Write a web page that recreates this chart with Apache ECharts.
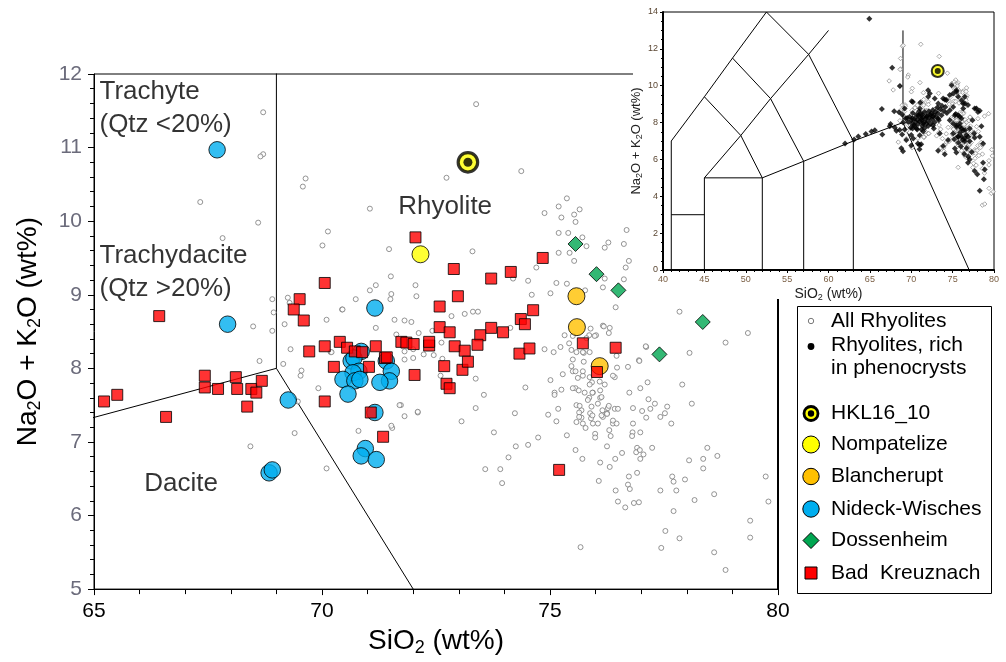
<!DOCTYPE html>
<html><head><meta charset="utf-8">
<script src="https://cdn.jsdelivr.net/npm/echarts@6/dist/echarts.min.js"></script>
<style>html,body{margin:0;padding:0;background:#fff}#c{width:1006px;height:662px}</style>
</head><body><div id="c"></div>
<script>
// ---------- DATA ----------
const xTicksMain = [65, 70, 75, 80];
const yTicksMain = [5, 6, 7, 8, 9, 10, 11, 12];
const xTicksInset = [40, 45, 50, 55, 60, 65, 70, 75, 80];
const yTicksInset = [0, 2, 4, 6, 8, 10, 12, 14];

// TAS classification boundaries (SiO2, Na2O+K2O)
const tasLines = [
  [[41,0],[41,7],[45,9.4],[48.4,11.5],[52.5,14]],
  [[41,3],[45,3]],
  [[45,0],[45,5],[52,5],[52,0]],
  [[52,5],[57,5.9],[63,7],[69,8]],
  [[57,0],[57,5.9]],
  [[63,0],[63,7]],
  [[45,5],[49.4,7.3],[53,9.3],[57.6,11.7],[60,13]],
  [[45,9.4],[49.4,7.3],[52,5]],
  [[48.4,11.5],[53,9.3],[57,5.9]],
  [[52.5,14],[57.6,11.7],[63,7]],
  [[69,8],[69,13]],
  [[69,8],[77,0]]
];

const allRhyolites = [
[68.71,11.48],[68.71,10.91],[68.65,10.88],[67.33,10.26],[69.64,10.58],[69.58,10.47],[68.60,9.98],[67.82,9.77],[71.05,10.17],[70.13,9.86],
[70.01,9.67],[71.47,9.62],[71.51,9.25],[71.18,9.13],[71.05,9.06],[71.52,9.01],[70.74,8.94],[70.44,8.80],[68.91,8.94],[69.25,8.96],
[69.29,8.89],[68.94,8.76],[69.18,8.60],[68.91,8.51],[68.49,8.57],[68.63,8.10],[69.31,8.26],[70.10,8.66],[70.19,8.22],[71.18,8.55],
[71.59,8.66],[71.63,8.46],[71.81,8.12],[72.00,8.14],
[69.15,8.06],[69.55,7.97],[69.53,7.90],[69.92,7.73],[69.47,7.55],[69.40,7.12],[68.43,6.94],[70.10,6.64],[70.80,7.15],[71.54,7.19],
[71.73,7.50],[71.81,7.35],[72.10,7.40],
[73.38,11.59],[72.73,10.59],[74.37,10.68],
[75.37,10.31],[75.19,10.20],[75.65,10.16],[75.53,10.09],[75.25,10.05],[74.88,10.11],[75.56,9.99],[75.19,9.84],[75.40,9.84],[75.71,9.78],
[76.68,9.88],[76.28,9.71],[76.20,9.64],[76.62,9.69],[75.80,9.66],[75.19,9.57],[75.43,9.57],[75.53,9.46],[76.73,9.46],[76.66,9.37],
[73.30,9.59],[74.70,9.37],[74.52,9.19],[74.60,9.00],[75.01,9.02],[75.14,9.16],[75.37,9.15],[75.77,9.06],[76.20,9.22],[76.16,9.10],
[76.62,9.21],[76.44,8.83],[72.05,9.13],[72.07,8.98],[71.50,8.94],[74.19,9.22],[72.84,8.71],[73.13,8.74],[73.31,8.77],[73.42,8.77],
[71.81,8.65],[71.96,8.63],[72.12,8.48],[72.42,8.51],[74.13,8.55],[72.62,8.35],[71.81,8.23],[72.00,8.26],[72.23,8.19],[72.45,8.18],
[74.88,8.26],[75.08,8.22],[75.86,8.45],[76.01,8.45],[76.16,8.58],[76.31,8.55],[75.32,8.45],[75.80,8.41],[75.74,8.21],[77.11,8.29],
[76.95,8.11],[78.06,8.21],[78.85,8.35],[79.34,8.48],[77.84,8.77],
[70.45,8.80],[72.64,8.13],[72.60,7.90],[71.70,7.50],[72.10,7.41],[71.52,7.22],[70.21,8.22],
[73.37,7.86],[73.55,7.64],[73.37,7.46],[73.06,7.28],[73.77,7.13],[73.58,6.63],[73.91,6.63],[73.95,6.44],[74.09,6.79],[74.25,6.94],
[74.52,6.96],[74.74,7.06],[74.23,7.39],[74.46,7.74],[75.01,7.84],[75.10,7.67],[75.25,7.71],[75.28,7.92],[74.96,7.37],[75.14,7.28],
[75.18,7.45],[75.37,7.09],[75.56,6.89],[75.71,6.77],[75.67,5.57],[75.47,8.03],[75.50,7.96],[75.56,7.73],[75.58,7.50],[75.69,7.43],
[75.63,7.70],[75.72,7.90],[75.74,8.09],[75.58,7.27],[75.69,7.33],[75.78,7.19],[75.86,7.60],[75.83,7.57],[75.92,7.81],[75.94,7.67],
[75.94,7.25],[75.90,7.32],[75.88,7.39],[76.05,7.25],[75.99,7.11],[75.99,7.06],[76.10,6.72],[76.07,6.47],[76.10,7.60],[76.10,7.70],
[76.15,7.43],[76.16,7.34],[76.20,7.78],[76.09,7.82],[76.27,7.46],[76.25,7.39],[76.30,7.16],[76.33,7.08],[76.38,7.25],[76.46,7.25],
[76.42,7.45],[76.49,7.45],[76.25,6.94],[76.31,6.66],[76.43,6.77],[76.44,6.34],[76.49,6.19],[76.65,6.11],[76.58,6.85],[76.73,6.53],
[76.71,6.42],[76.75,6.36],[76.82,7.25],[76.81,7.13],[76.80,7.08],[76.82,7.46],[76.74,7.67],[76.47,8.01],[76.42,7.88],[76.71,8.02],
[76.96,8.10],[76.98,7.73],[77.14,7.81],[76.91,6.92],[76.89,6.86],[76.97,6.89],[76.98,6.77],[76.98,7.13],[77.05,6.83],[76.91,6.58],
[76.84,6.17],[76.95,6.18],[77.02,7.42],[77.11,7.33],[77.16,7.58],[77.20,7.45],[77.24,6.92],[77.30,7.52],[77.42,7.34],[77.52,7.39],
[77.57,7.48],[77.66,7.25],[77.10,8.30],[77.42,6.34],[77.53,5.79],[77.44,5.56],[77.68,6.53],[77.71,6.46],[77.77,6.34],[77.71,6.06],
[77.84,5.69],[77.90,7.78],[78.11,7.52],[78.05,6.75],[77.96,6.49],[78.17,6.21],[78.36,6.77],[78.36,6.64],[78.45,6.92],[78.67,6.81],
[78.60,6.29],[78.60,5.50],[78.85,5.26],[79.39,5.93],[79.39,5.70],[79.73,6.53],[79.79,6.19],
[76.18,8.57],[76.29,8.48],[75.89,8.54],[75.50,8.44],[75.98,8.44],[75.23,8.29],[75.42,8.34],[75.47,8.25],[75.58,8.22],[75.72,8.22],
[75.87,8.22],[75.50,8.12],[76.46,8.17],[75.56,7.96],[75.72,7.96],[75.61,7.87],[75.87,7.88],[76.38,7.90],[75.50,7.73],[75.87,7.78],
[75.10,7.64],[75.76,7.67],[75.93,7.67],[76.13,7.61],[75.65,7.49],[75.91,7.48],[76.05,7.52],[76.29,7.49],[75.64,7.40],[75.64,7.34],
[75.93,7.36],[76.13,7.36],[76.25,7.38],[76.38,7.29],[75.72,7.25]
];
// All-rhyolite analyses that plot outside the main frame (inset only)
const allRhyolitesOutside = [[68.94,12.14],[69.03,12.19],[71.15,12.25],[79.40,4.43],[79.68,4.16],[79.90,4.25],[78.60,3.52],[78.88,3.58]];

const richRhyolites = [
[64.93,13.64],[67.70,10.98],[68.63,9.99],[66.45,8.73],[67.94,8.62],[68.54,8.56],
[62.0,6.87],[63.1,7.08],[63.6,7.25],[64.5,7.38],[65.2,7.52],[65.6,7.58],[66.5,7.35],
[67.4,7.80],[67.5,7.92],[68.0,7.73],[68.2,7.55],[68.6,7.60],[69.2,7.62],[68.9,7.35],[69.4,7.05],[70.0,7.33],[70.0,6.75],[68.8,6.60],
[69.0,6.45],[70.8,6.87],[71.0,6.78],[71.2,6.82],[71.0,6.55],
[69.2,8.76],[69.5,8.25],[70.1,7.95],[70.2,9.12],[70.05,9.16],[71.1,9.09],[71.05,8.76],[71.45,7.95],[70.85,8.40],[71.25,8.22],[71.85,8.31],
[72.04,9.76],[72.24,9.58],[72.05,9.40],[72.84,9.31],[73.26,9.03],[73.85,9.31],[74.25,9.22],[74.65,9.49],[75.05,9.58],[75.45,9.76],[74.87,10.03],
[72.65,8.31],[73.26,8.22],[73.66,8.40],[74.06,9.25],[74.67,8.67],[75.07,8.85],[75.47,9.67],[75.67,9.40],[76.08,9.21],[76.46,9.40],
[76.48,9.03],[76.26,9.04],[76.86,8.95],[76.28,8.76],
[75.27,8.40],[75.67,8.40],[76.08,8.22],[75.38,8.46],[75.86,8.31],[77.66,8.77],[78.06,8.58],[77.88,8.76],[78.28,8.64],[77.40,8.13],[78.48,7.80],
[75.47,7.77],[75.87,7.95],[76.08,7.68],[75.07,7.41],[75.67,7.23],[76.08,7.23],[76.48,7.14],[76.88,7.23],[77.60,7.41],[78.28,7.23],[78.68,6.87],
[76.88,6.14],[77.06,6.00],[76.86,5.82],[78.68,5.82],[78.88,5.46],[77.66,5.37],[77.98,5.19],[78.78,4.92],[78.28,4.30],
[73.25,6.47],[75.27,6.59],[73.45,7.41],[72.73,7.68],[70.24,7.14],[70.15,7.68],[70.64,7.68],[71.24,7.62],
[74.65,8.13],[75.05,7.95],[75.45,7.86],[75.86,7.77],[76.26,7.59],[77.06,7.68],[76.66,7.32],[74.45,7.05],[75.65,7.23],[73.85,6.73],
[74.05,6.28],[75.45,6.37],[76.46,6.99],[77.06,6.99],[77.66,7.17],
[75.9,7.45],[76.2,7.05],[76.5,7.6],[75.7,6.9],[76.0,6.7],[76.7,6.6],[77.3,6.4],[76.4,6.3],[75.2,7.1],
[69.62,8.03],[69.81,8.31],[70.02,8.12],[70.18,8.52],[70.33,7.87],[70.41,8.22],[70.52,8.04],[70.63,8.43],[70.71,8.15],[70.84,7.92],
[70.93,8.33],[71.02,8.06],[71.13,8.47],[71.21,8.13],[71.34,7.83],[71.42,8.29],[71.53,8.02],[71.61,8.58],[71.72,8.21],[71.83,7.94],
[71.91,8.38],[72.02,8.09],[72.13,8.62],[72.21,8.27],[72.33,7.93],[72.42,8.49],[72.52,8.18],[72.61,8.68],[72.72,8.41],[72.83,8.02],
[72.93,8.57],[73.02,8.29],[73.14,8.82],[73.22,8.51],[73.33,8.13],[73.52,8.72],[73.71,8.91],[73.92,8.63],[74.12,8.84],[74.31,8.52],
[70.12,8.24],[70.43,7.81],[70.94,8.61],[71.32,8.44],[71.63,7.71],[72.04,7.82],[72.31,8.43],[72.63,7.84],[69.93,7.72],[70.72,7.63],
[71.03,7.31],[71.44,7.52],[69.02,8.01],[69.33,8.22],[68.92,8.42]
];

const hkl16_10 = [[73.20,10.80]];
const nompatelize = [[72.16,9.55]];
const blancherupt = [[75.58,8.98],[75.59,8.56],[76.09,8.03]];
const nideckWisches = [
[67.70,10.97],[67.93,8.60],[71.16,8.82],[69.26,7.57],[68.84,6.58],[68.91,6.62],[70.95,6.91],[70.86,6.81],[71.19,6.76],[71.16,7.40],
[70.86,8.23],[70.64,8.10],[70.70,8.14],[70.81,7.96],[70.68,7.94],[70.46,7.85],[70.72,7.83],[70.83,7.85],[70.57,7.65],[71.41,8.10],
[71.52,7.96],[71.48,7.83],[71.27,7.81]
];
const dossenheim = [[75.56,9.69],[76.02,9.28],[76.50,9.06],[78.35,8.63],[77.40,8.19]];
const badKreuznach = [
[65.22,7.55],[65.51,7.64],[66.58,7.34],[66.43,8.71],
[67.43,7.90],[67.43,7.74],[67.72,7.72],[68.11,7.88],[68.14,7.72],[68.45,7.72],[68.56,7.67],[68.36,7.48],[68.68,7.83],
[69.51,8.94],[69.38,8.80],[69.60,8.65],[69.72,8.23],[70.06,9.16],[70.06,8.30],[70.06,7.55],
[70.39,8.36],[70.55,8.28],[70.72,8.23],[70.88,8.22],[71.18,8.30],[70.26,8.02],[71.03,8.02],[71.07,7.40],[71.34,7.07],
[71.38,8.14],[71.42,8.15],[71.74,8.36],[71.85,8.35],[72.01,8.33],[72.35,8.31],[72.35,8.36],[72.03,7.91],
[72.05,9.78],[72.89,9.35],[73.71,9.22],[74.14,9.31],[74.84,9.50],[72.98,8.98],[72.58,8.84],[74.63,8.79],[74.36,8.67],[74.45,8.60],
[72.58,8.56],[72.80,8.49],[73.71,8.55],[73.47,8.45],[73.97,8.49],[72.91,8.30],[73.13,8.24],[73.41,8.32],[74.33,8.20],[74.55,8.27],
[72.68,8.03],[73.08,7.98],[73.20,8.09],[72.73,7.79],[72.80,7.73],
[75.72,8.34],[76.44,8.28],[76.03,7.95],[75.20,6.62]
];

const regionNames = ['Trachyte\n(Qtz <20%)', 'Trachydacite\n(Qtz >20%)', 'Dacite', 'Rhyolite'];
const regionAnchors = [[65.12,11.53],[65.12,9.30],[66.10,6.43],[71.67,10.20]];

const legendNames = ['All Rhyolites','Rhyolites, rich','in phenocrysts','HKL16_10','Nompatelize','Blancherupt','Nideck-Wisches','Dossenheim','Bad  Kreuznach'];

// ---------- STYLE ----------
const FF = 'Arial, "Liberation Sans", sans-serif';
const C = {gray:'#7a7a7a', red:'#ff0000', blue:'#00aeef', green:'#00a651', orange:'#ffc000', yellow:'#ffff00'};

const chart = echarts.init(document.getElementById('c'), null, {renderer:'canvas'});

function tasSeries(xi, yi, z){
  return tasLines.map((pl, i) => ({
    type:'line', name:'tas'+xi+'_'+i, xAxisIndex:xi, yAxisIndex:yi, data:pl,
    symbol:'none', clip:true, silent:true, z:z, animation:false,
    lineStyle:{color:'#000', width:1}
  }));
}
function sc(name, data, xi, yi, opts){
  return Object.assign({type:'scatter', name, data, xAxisIndex:xi, yAxisIndex:yi, clip:true, silent:true, animation:false}, opts);
}

const mainRich = {
  a:{fontSize:28, fontFamily:FF, color:'#000', lineHeight:32},
  s:{fontSize:18, fontFamily:FF, color:'#000', lineHeight:6, verticalAlign:'bottom'}
};
const insetRich = {
  a:{fontSize:14, fontFamily:FF, color:'#222', lineHeight:16},
  s:{fontSize:9, fontFamily:FF, color:'#222', lineHeight:3, verticalAlign:'bottom'}
};
const insetRichY = {
  a:{fontSize:13, fontFamily:FF, color:'#222', lineHeight:15},
  s:{fontSize:9, fontFamily:FF, color:'#222', lineHeight:3, verticalAlign:'bottom'}
};

const LX = 811; // legend symbol centre x
const LT = 831; // legend text left
const legendY = [321, 345, 368.5, 413.5, 444.5, 476.5, 509, 540.5, 573];
const legendGraphics = [
  {type:'rect', shape:{x:797.5, y:306.5, width:194, height:287}, style:{fill:'#fff', stroke:'#000', lineWidth:1}, z:30},
  {type:'circle', shape:{cx:LX, cy:legendY[0], r:2.7}, style:{fill:'#fff', stroke:C.gray, lineWidth:1}, z:31},
  {type:'circle', shape:{cx:LX, cy:legendY[1]+1.5, r:3.4}, style:{fill:'#000'}, z:31},
  {type:'circle', shape:{cx:LX, cy:legendY[3], r:7}, style:{fill:C.yellow, stroke:'#000', lineWidth:2.8}, z:31},
  {type:'circle', shape:{cx:LX, cy:legendY[3], r:3.2}, style:{fill:'#000'}, z:32},
  {type:'circle', shape:{cx:LX, cy:legendY[4], r:8.5}, style:{fill:C.yellow, stroke:'#000', lineWidth:1}, z:31},
  {type:'circle', shape:{cx:LX, cy:legendY[5], r:8.2}, style:{fill:C.orange, stroke:'#000', lineWidth:1}, z:31},
  {type:'circle', shape:{cx:LX, cy:legendY[6], r:8.2}, style:{fill:C.blue, stroke:'#000', lineWidth:1}, z:31},
  {type:'polygon', shape:{points:[[LX,legendY[7]-8],[LX+8,legendY[7]],[LX,legendY[7]+8],[LX-8,legendY[7]]]}, style:{fill:C.green, stroke:'#000', lineWidth:1}, z:31},
  {type:'rect', shape:{x:LX-6, y:legendY[8]-6, width:12, height:12}, style:{fill:C.red, stroke:'#000', lineWidth:1}, z:31}
].concat(legendNames.map((t, i) => ({
  type:'text', x:LT, y:legendY[i], z:31,
  style:{text:t, fontSize:21, fontFamily:FF, fill:'#000', verticalAlign:'middle', align:'left'}
})));

const option = {
  backgroundColor:'#fff',
  animation:false,
  grid:[
    {left:94, top:74, width:684, height:519, show:true, borderColor:'#000', borderWidth:1, backgroundColor:'transparent', z:0},
    {left:663, top:12, width:331, height:258, show:true, borderColor:'#000', borderWidth:1, backgroundColor:'#fff', z:21}
  ],
  xAxis:[
    {gridIndex:0, type:'value', min:xTicksMain[0], max:xTicksMain[xTicksMain.length-1], interval:5,
     axisLine:{onZero:false, lineStyle:{color:'#000', width:1}},
     axisTick:{length:6, lineStyle:{color:'#000'}},
     minorTick:{show:true, splitNumber:5, length:5, lineStyle:{color:'#000'}},
     splitLine:{show:false}, minorSplitLine:{show:false},
     axisLabel:{fontSize:21, fontFamily:FF, color:'#000', margin:12},
     name:'{a|SiO}{s|2}{a| (wt%)}', nameLocation:'middle', nameGap:26,
     nameTextStyle:{rich:mainRich}, z:1},
    {gridIndex:1, type:'value', min:xTicksInset[0], max:xTicksInset[xTicksInset.length-1], interval:5,
     axisLine:{onZero:false, lineStyle:{color:'#000', width:2}},
     axisTick:{length:3, lineStyle:{color:'#000'}},
     minorTick:{show:true, splitNumber:5, length:2, lineStyle:{color:'#000'}},
     splitLine:{show:false},
     axisLabel:{fontSize:9, fontFamily:FF, color:'#7b6046', margin:5},
     name:'{a|SiO}{s|2}{a| (wt%)}', nameLocation:'middle', nameGap:16,
     nameTextStyle:{rich:insetRich}, z:22}
  ],
  yAxis:[
    {gridIndex:0, type:'value', min:yTicksMain[0], max:yTicksMain[yTicksMain.length-1], interval:1,
     axisLine:{onZero:false, lineStyle:{color:'#000', width:1}},
     axisTick:{length:6, lineStyle:{color:'#000'}},
     minorTick:{show:true, splitNumber:5, length:4, lineStyle:{color:'#000'}},
     splitLine:{show:false}, minorSplitLine:{show:false},
     axisLabel:{fontSize:21, fontFamily:FF, color:'#6b6b7b', margin:12},
     name:'{a|Na}{s|2}{a|O + K}{s|2}{a|O (wt%)}', nameLocation:'middle', nameGap:50,
     nameTextStyle:{rich:mainRich}, z:1},
    {gridIndex:0, type:'value', position:'right', min:yTicksMain[0], max:yTicksMain[yTicksMain.length-1], interval:1,
     axisLine:{show:true, onZero:false, lineStyle:{color:'#000', width:2}},
     axisTick:{show:false}, axisLabel:{show:false}, splitLine:{show:false}, z:1},
    {gridIndex:1, type:'value', min:yTicksInset[0], max:yTicksInset[yTicksInset.length-1], interval:2,
     axisLine:{onZero:false, lineStyle:{color:'#000', width:2}},
     axisTick:{length:3, lineStyle:{color:'#000'}},
     minorTick:{show:true, splitNumber:4, length:2, lineStyle:{color:'#000'}},
     splitLine:{show:false},
     axisLabel:{fontSize:9, fontFamily:FF, color:'#5a4632', margin:5},
     name:'{a|Na}{s|2}{a|O + K}{s|2}{a|O (wt%)}', nameLocation:'middle', nameGap:14,
     nameTextStyle:{rich:insetRichY}, z:22}
  ],
  graphic:[
    {type:'rect', shape:{x:633, y:0, width:373, height:299}, style:{fill:'#fff'}, z:20, silent:true}
  ].concat(legendGraphics),
  series: [].concat(
    tasSeries(0, 0, 1),
    [
      sc('All Rhyolites', allRhyolites, 0, 0, {symbol:'circle', symbolSize:5, z:2,
        itemStyle:{color:'#fff', borderColor:C.gray, borderWidth:1}}),
      sc('Nideck-Wisches', nideckWisches, 0, 0, {symbol:'circle', symbolSize:16.5, z:3,
        itemStyle:{color:C.blue, borderColor:'#000', borderWidth:1}}),
      sc('Blancherupt', blancherupt, 0, 0, {symbol:'circle', symbolSize:17, z:3,
        itemStyle:{color:C.orange, borderColor:'#000', borderWidth:1}}),
      sc('Nompatelize', nompatelize, 0, 0, {symbol:'circle', symbolSize:17, z:3,
        itemStyle:{color:C.yellow, borderColor:'#000', borderWidth:1}}),
      sc('Dossenheim', dossenheim, 0, 0, {symbol:'diamond', symbolSize:15, z:3,
        itemStyle:{color:C.green, borderColor:'#000', borderWidth:1}}),
      sc('Bad  Kreuznach', badKreuznach, 0, 0, {symbol:'rect', symbolSize:11, z:4,
        itemStyle:{color:C.red, borderColor:'#000', borderWidth:1}}),
      sc('HKL16_10', hkl16_10, 0, 0, {symbol:'circle', symbolSize:19.5, z:5,
        itemStyle:{color:C.yellow, borderColor:'#000', borderWidth:3.2}}),
      sc('HKL16_10 core', hkl16_10, 0, 0, {symbol:'circle', symbolSize:9, z:6,
        itemStyle:{color:'#000'}}),
      sc('regions', regionNames.map((n, i) => ({name:n, value:regionAnchors[i]})), 0, 0, {
        symbol:'circle', symbolSize:0, z:7,
        label:{show:true, position:'right', distance:0, formatter:'{b}', fontSize:26, fontFamily:FF,
               color:'#000', lineHeight:33, align:'left', verticalAlign:'middle'}})
    ],
    tasSeries(1, 2, 22),
    [
      sc('All Rhyolites', allRhyolites.concat(allRhyolitesOutside), 1, 2, {symbol:'diamond', symbolSize:4.5, z:23,
        itemStyle:{color:'#fff', borderColor:'#8a8a8a', borderWidth:0.9}}),
      sc('Rhyolites, rich in phenocrysts', richRhyolites, 1, 2, {symbol:'diamond', symbolSize:6, z:24,
        itemStyle:{color:'#000'}}),
      sc('HKL16_10', hkl16_10, 1, 2, {symbol:'circle', symbolSize:12, z:25,
        itemStyle:{color:C.yellow, borderColor:'#000', borderWidth:2}}),
      sc('HKL16_10 core', hkl16_10, 1, 2, {symbol:'circle', symbolSize:6, z:26,
        itemStyle:{color:'#000'}})
    ]
  )
};
chart.setOption(option);
</script>
</body></html>
